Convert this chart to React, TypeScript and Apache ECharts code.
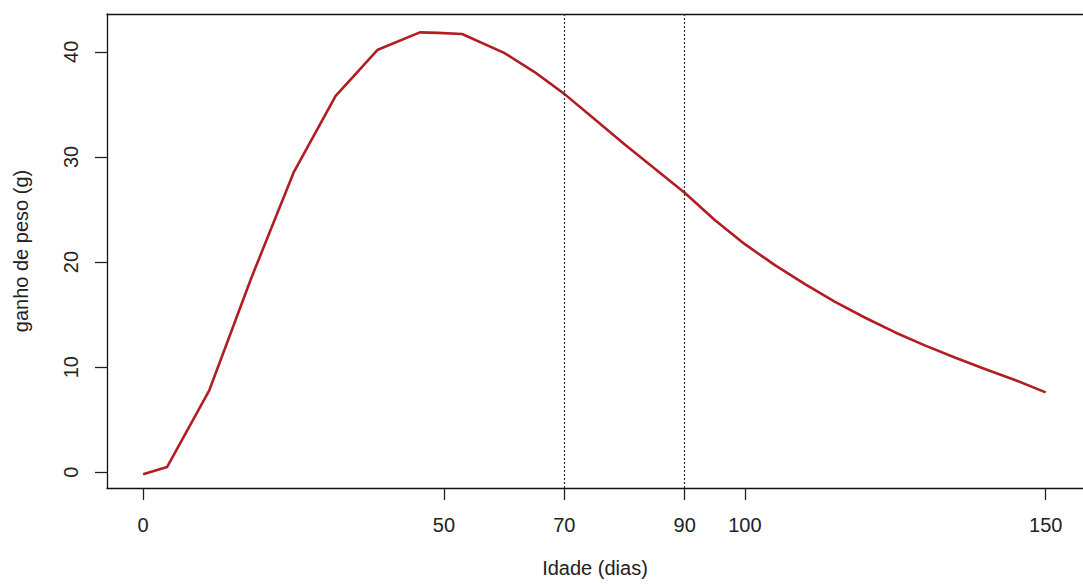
import React, { useEffect, useRef } from "react";
import * as echarts from "echarts";

const ages = [0, 4, 11, 18, 25, 32, 35, 39, 46, 49, 53, 60, 65, 70, 75, 80, 85, 90, 95, 100, 105, 110, 115, 120, 125, 130, 135, 140, 145, 150];
const gain = [-0.2, 0.5, 7.8, 18.5, 28.5, 35.8, 37.7, 40.2, 41.85, 41.8, 41.7, 39.9, 38.1, 36.0, 33.6, 31.2, 28.9, 26.6, 24.0, 21.7, 19.7, 17.9, 16.2, 14.7, 13.3, 12.05, 10.9, 9.8, 8.75, 7.6];
const xTicks = [0, 50, 70, 90, 100, 150];
const yTicks = [0, 10, 20, 30, 40];
const refLines = [70, 90];
const xTitle = "Idade (dias)";
const yTitle = "ganho de peso (g)";

export default function App() {
  const ref = useRef<HTMLDivElement>(null);
  useEffect(() => {
    if (!ref.current) return;
    const chart = echarts.init(ref.current, null, { renderer: "svg" });
    const font = "'Liberation Sans', Arial, sans-serif";
    const frame = { show: true, onZero: false, lineStyle: { color: "#111", width: 1.3 } };
    chart.setOption({
      animation: false,
      backgroundColor: "#ffffff",
      textStyle: { fontFamily: font },
      grid: {
        left: 107,
        top: 14,
        right: 0,
        bottom: 97,
        show: false,
      },
      xAxis: [
        {
          type: "value",
          min: -6,
          max: 156.2,
          name: xTitle,
          nameLocation: "middle",
          nameGap: 70,
          nameTextStyle: { fontSize: 20, color: "#222", fontFamily: font },
          axisLine: frame,
          splitLine: { show: false },
          axisTick: {
            show: true,
            customValues: xTicks,
            length: 12,
            inside: false,
            lineStyle: { color: "#222", width: 1.3 },
          },
          axisLabel: {
            customValues: xTicks,
            fontSize: 20,
            color: "#222",
            margin: 27,
            fontFamily: font,
          },
        },
        {
          type: "value",
          position: "top",
          min: -6,
          max: 156.2,
          axisLine: frame,
          axisTick: { show: false },
          axisLabel: { show: false },
          splitLine: { show: false },
        },
      ],
      yAxis: {
        type: "value",
        min: -1.5,
        max: 43.6,
        name: yTitle,
        nameLocation: "middle",
        nameRotate: 90,
        nameGap: 76,
        nameTextStyle: { fontSize: 20, color: "#222", fontFamily: font },
        axisLine: frame,
        splitLine: { show: false },
        axisTick: {
          show: true,
          customValues: yTicks,
          length: 12,
          inside: false,
          lineStyle: { color: "#222", width: 1.3 },
        },
        axisLabel: {
          customValues: yTicks,
          fontSize: 20,
          color: "#222",
          rotate: 90,
          margin: 26,
          fontFamily: font,
        },
      },
      series: [
        {
          type: "line",
          xAxisIndex: 0,
          data: ages.map((a, i) => [a, gain[i]]),
          showSymbol: false,
          symbol: "none",
          lineStyle: { color: "#b01e23", width: 2.6 },
          markLine: {
            silent: true,
            symbol: "none",
            label: { show: false },
            lineStyle: { color: "#2a2f55", type: [2, 2], width: 1.2 },
            data: refLines.map((v) => ({ xAxis: v })),
          },
        },
      ],
    });
    return () => chart.dispose();
  }, []);
  return (
    <div
      ref={ref}
      style={{ position: "fixed", left: 0, top: 0, width: 1083, height: 585, background: "#fff" }}
    />
  );
}
